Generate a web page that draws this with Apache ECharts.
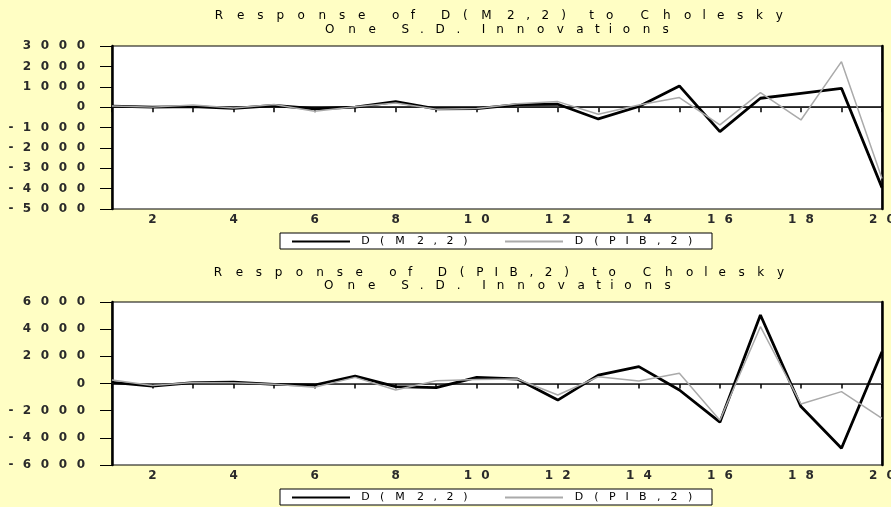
<!DOCTYPE html>
<html>
<head>
<meta charset="utf-8">
<title>Response to Cholesky One S.D. Innovations</title>
<script src="https://cdn.jsdelivr.net/npm/echarts@6.0.0/dist/echarts.min.js"></script>
<style>
html, body { margin:0; padding:0; background:#FFFEC4; }
#chart { width:891px; height:507px; }
</style>
</head>
<body>
<div id="chart"></div>
<script>
// ---------------- data ----------------
const periods = [1, 2, 3, 4, 5, 6, 7, 8, 9, 10, 11, 12, 13, 14, 15, 16, 17, 18, 19, 20];
const seriesNames = ['D(M2,2)', 'D(PIB,2)'];

// Response of D(M2,2)
const respM2_toM2  = [50, 0, 25, -60, 80, -80, 0, 270, -80, -70, 120, 140, -580, 30, 1040, -1200, 435, 680, 925, -3950];
const respM2_toPIB = [50, 0, 100, -40, 130, -200, 20, 200, -100, -70, 170, 270, -350, 100, 470, -870, 710, -630, 2230, -3500];

// Response of D(PIB,2)
const respPIB_toM2  = [90, -190, 60, 100, -60, -110, 550, -230, -310, 450, 330, -1220, 620, 1240, -480, -2850, 5040, -1700, -4770, 2340];
const respPIB_toPIB = [260, -150, 80, 50, -60, -280, 450, -480, 200, 300, 330, -850, 500, 180, 750, -2700, 4180, -1510, -600, -2560];

const yTicksTop    = [-5000, -4000, -3000, -2000, -1000, 0, 1000, 2000, 3000];
const yTicksBottom = [-6000, -4000, -2000, 0, 2000, 4000, 6000];

const titlesTop    = ['Response of D(M2,2) to Cholesky', 'One S.D. Innovations'];
const titlesBottom = ['Response of D(PIB,2) to Cholesky', 'One S.D. Innovations'];

// ---------------- styling helpers ----------------
const FONT = 'DejaVu Sans';
const BG = '#FFFEC4';
const mctx = document.createElement('canvas').getContext('2d');
function textW(s, size, weight) { mctx.font = (weight || 'normal') + ' ' + size + "px 'DejaVu Sans'"; return mctx.measureText(s).width; }

// wide letter-spaced text (rich text cells, glyph centred in each cell)
function spaced(str, size, target, g0, prefix, color, lh, weight) {
  const chars = [...str];
  const ws = chars.map(c => textW(c, size, weight));
  const sum = ws.reduce((a, b) => a + b, 0);
  const k = (target - (chars.length - 1) * g0) / sum;
  const rich = {};
  let text = '';
  chars.forEach((c, i) => {
    const name = prefix + i;
    rich[name] = { width: ws[i] * k + g0, align: 'center', fontSize: size, fontFamily: FONT,
                   fontWeight: weight || 'normal', color: color, lineHeight: lh };
    text += '{' + name + '|' + c + '}';
  });
  return { text, rich };
}
function cells(str, digitName, minusName) {
  return [...String(str)].map(c => '{' + (c === '-' ? minusName : digitName) + '|' + c + '}').join('');
}
const LBL = { align: 'center', fontSize: 12, fontFamily: FONT, fontWeight: 'bold', color: '#2a2a2a', lineHeight: 13 };
const labelRich = {
  yd: Object.assign({ width: 18 }, LBL),
  ym: Object.assign({ width: 14 }, LBL),
  xd: Object.assign({ width: 17.5 }, LBL)
};

// ---------------- layout ----------------
const PL = 112, PW = 770, PH = 163;
const panels = [
  { top: 46, ticks: yTicksTop, step: 1000, titles: titlesTop, titleY: [16, 30], titleSpan: [[210, 787], [320, 672]], legendTop: 233, zeroColor: '#222',
    data: [respM2_toM2, respM2_toPIB] },
  { top: 302, ticks: yTicksBottom, step: 2000, titles: titlesBottom, titleY: [273, 285.5], titleSpan: [[209, 788], [319, 674]], legendTop: 489, zeroColor: '#555',
    data: [respPIB_toM2, respPIB_toPIB] }
];

const legendParts = {
  'D(M2,2)': spaced(seriesNames[0], 11, 112, 5, 'la', '#000', 12),
  'D(PIB,2)': spaced(seriesNames[1], 11, 124, 5, 'lb', '#000', 12)
};
const legendRich = Object.assign({}, legendParts['D(M2,2)'].rich, legendParts['D(PIB,2)'].rich);

const option = {
  backgroundColor: BG,
  animation: false,
  title: [], legend: [], grid: [], xAxis: [], yAxis: [], series: []
};

panels.forEach((p, pi) => {
  // titles (two lines)
  p.titles.forEach((t, li) => {
    const span = p.titleSpan[li];
    const sp = spaced(t, 12, span[1] - span[0], 5, 't' + pi + li + '_', '#000', 13);
    option.title.push({
      text: sp.text, left: (span[0] + span[1]) / 2, top: p.titleY[li] - 6.5, textAlign: 'center', padding: 0,
      textStyle: { rich: sp.rich, fontSize: 12, fontFamily: FONT, fontWeight: 'normal', color: '#000' }
    });
  });

  option.legend.push({
    left: 280, top: p.legendTop, orient: 'horizontal',
    data: seriesNames.map(n => ({ name: n, icon: 'rect' })),
    itemWidth: 58, itemHeight: 2, itemGap: 33,
    padding: [3, 15, 2, 12],
    backgroundColor: '#ffffff', borderColor: '#000', borderWidth: 1, borderRadius: 0,
    selectedMode: false,
    formatter: name => legendParts[name].text,
    textStyle: { rich: legendRich, fontSize: 11, fontFamily: FONT, fontWeight: 'normal', color: '#000' }
  });

  option.grid.push({
    left: PL, top: p.top, width: PW, height: PH, outerBoundsMode: 'none',
    show: true, backgroundColor: '#ffffff', borderColor: '#000', borderWidth: 1
  });

  option.xAxis.push({
    type: 'category', gridIndex: pi, data: periods, boundaryGap: false,
    axisLine: { show: true, lineStyle: { color: '#000', width: 1.5 } },
    axisTick: { show: true, interval: 0, inside: false, length: 5, lineStyle: { color: '#000', width: 1.5 } },
    axisLabel: { interval: (i) => i % 2 === 1, margin: 4, formatter: v => cells(v, 'xd', 'ym'), rich: labelRich },
    splitLine: { show: false }
  });

  const ymin = p.ticks[0], ymax = p.ticks[p.ticks.length - 1];
  option.yAxis.push({
    type: 'value', gridIndex: pi, position: 'left', min: ymin, max: ymax, interval: p.step,
    axisLine: { show: true, lineStyle: { color: '#000', width: 2.5 } },
    axisTick: { show: true, inside: false, length: 12, lineStyle: { color: '#000', width: 1 } },
    axisLabel: { margin: 22, formatter: v => cells(v, 'yd', 'ym'), rich: labelRich },
    splitLine: { show: false }
  });
  option.yAxis.push({
    type: 'value', gridIndex: pi, position: 'right', min: ymin, max: ymax, interval: p.step,
    axisLine: { show: true, lineStyle: { color: '#000', width: 2.5 } },
    axisTick: { show: false }, axisLabel: { show: false }, splitLine: { show: false }
  });

  option.series.push({
    type: 'line', name: seriesNames[0], xAxisIndex: pi, yAxisIndex: pi * 2, data: p.data[0],
    symbol: 'none', z: 3,
    lineStyle: { color: '#000', width: 2.8 }, itemStyle: { color: '#000' },
    markLine: {
      silent: true, symbol: ['none', 'none'], label: { show: false }, z: 1,
      lineStyle: { color: p.zeroColor, width: 1, type: 'solid' },
      emphasis: { disabled: true },
      data: [{ yAxis: 0 }]
    }
  });
  option.series.push({
    type: 'line', name: seriesNames[1], xAxisIndex: pi, yAxisIndex: pi * 2, data: p.data[1],
    symbol: 'none', z: 4,
    lineStyle: { color: '#aaaaaa', width: 1.5 }, itemStyle: { color: '#aaaaaa' }
  });
});

const chart = echarts.init(document.getElementById('chart'), null, { renderer: 'canvas' });
chart.setOption(option);
</script>
</body>
</html>
